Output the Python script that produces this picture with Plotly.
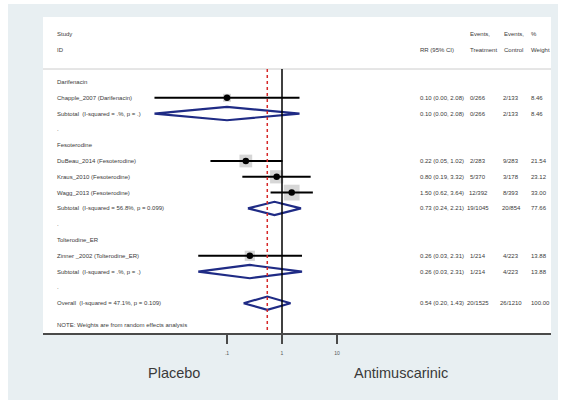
import plotly.graph_objects as go

# ---------------- data ----------------
study_names = ["Chapple_2007 (Darifenacin)", "DuBeau_2014 (Fesoterodine)",
               "Kraus_2010 (Fesoterodine)", "Wagg_2013 (Fesoterodine)",
               "Zinner _2002 (Tolterodine_ER)"]
study_rr = [0.10, 0.22, 0.80, 1.50, 0.26]
study_lo = [0.0048, 0.05, 0.19, 0.62, 0.03]
study_hi = [2.08, 1.02, 3.32, 3.64, 2.31]
study_trt = ["0/266", "2/283", "5/370", "12/392", "1/214"]
study_ctl = ["2/133", "9/283", "3/178", "8/393", "4/223"]
study_wt = [8.46, 21.54, 23.12, 33.00, 13.88]
study_row = [1, 5, 6, 7, 11]

pooled_names = ["Subtotal  (I-squared = .%, p = .)",
                "Subtotal  (I-squared = 56.8%, p = 0.099)",
                "Subtotal  (I-squared = .%, p = .)",
                "Overall  (I-squared = 47.1%, p = 0.109)"]
pooled_rr = [0.10, 0.73, 0.26, 0.54]
pooled_lo = [0.0048, 0.24, 0.03, 0.20]
pooled_hi = [2.08, 2.21, 2.31, 1.43]
pooled_trt = ["0/266", "19/1045", "1/214", "20/1525"]
pooled_ctl = ["2/133", "20/854", "4/223", "26/1210"]
pooled_wt = [8.46, 77.66, 13.88, 100.00]
pooled_row = [2, 8, 12, 14]

group_names = ["Darifenacin", "Fesoterodine", "Tolterodine_ER"]
group_row = [0, 4, 10]
blank_row = [3, 9, 13]

tick_vals = [0.1, 1, 10]
tick_text = [".1", "1", "10"]

# ---------------- layout helpers ----------------
W, H = 565, 403
ML, MR, MT, MB = 43, 14, 17, 70
PW = W - ML - MR
PH = H - MT - MB
ROW0, STEP = 82, 15.8          # pixel y of row 0, pixels per row
X1PX, DEC = 282, 55            # pixel x of RR=1, pixels per decade


def px2paper_x(px):
    return (px - ML) / PW


def px2paper_y(py):
    return (H - MB - py) / PH


def py2row(py):
    return (py - ROW0) / STEP


xr = [(ML - X1PX) / DEC, (W - MR - X1PX) / DEC]
yr = [py2row(H - MB), py2row(MT)]

FONT = "Liberation Sans, Arial, sans-serif"
TXT = "#3a3a3a"
SMALL = 6.0
NAVY = "#1f2b85"

fig = go.Figure()

# weight squares
fig.add_trace(go.Scatter(
    x=study_rr, y=study_row, mode="markers",
    marker=dict(symbol="square", size=[2.75 * w ** 0.5 for w in study_wt],
                color="#c4c4c4", line=dict(width=0)),
    hoverinfo="skip", showlegend=False))

# CI lines
cx, cy = [], []
for lo, hi, r in zip(study_lo, study_hi, study_row):
    cx += [lo, hi, None]
    cy += [r, r, None]
fig.add_trace(go.Scatter(x=cx, y=cy, mode="lines",
                         line=dict(color="black", width=2),
                         hoverinfo="skip", showlegend=False))

# point estimates
fig.add_trace(go.Scatter(x=study_rr, y=study_row, mode="markers",
                         marker=dict(color="black", size=6.5),
                         hoverinfo="skip", showlegend=False))

# diamonds
HH = 0.42
dx, dy = [], []
for rr, lo, hi, r in zip(pooled_rr, pooled_lo, pooled_hi, pooled_row):
    dx += [lo, rr, hi, rr, lo, None]
    dy += [r, r - HH, r, r + HH, r, None]
fig.add_trace(go.Scatter(x=dx, y=dy, mode="lines",
                         line=dict(color=NAVY, width=2.2),
                         hoverinfo="skip", showlegend=False))

shapes = []
# outer light background
shapes.append(dict(type="rect", xref="paper", yref="paper",
                   x0=px2paper_x(8), x1=px2paper_x(558),
                   y0=px2paper_y(400), y1=px2paper_y(4),
                   fillcolor="#e8eff2", line=dict(width=0), layer="below"))
# white panel
shapes.append(dict(type="rect", xref="paper", yref="paper",
                   x0=0, x1=1, y0=0, y1=1,
                   fillcolor="white", line=dict(width=0), layer="below"))
# header separator line
shapes.append(dict(type="line", xref="paper", yref="y",
                   x0=0, x1=1, y0=py2row(69), y1=py2row(69),
                   line=dict(color="#cccccc", width=1)))
# null line
shapes.append(dict(type="line", xref="x", yref="y",
                   x0=1, x1=1, y0=py2row(69), y1=yr[0],
                   line=dict(color="black", width=1.5)))
# overall effect line
shapes.append(dict(type="line", xref="x", yref="y",
                   x0=pooled_rr[-1], x1=pooled_rr[-1], y0=py2row(69), y1=yr[0],
                   line=dict(color="#d62828", width=1.5, dash="dot")))

ann = []


def txt(xpx, row, s, anchor="left", size=SMALL):
    ann.append(dict(x=px2paper_x(xpx), xref="paper", y=row, yref="y",
                    text=s, showarrow=False, xanchor=anchor, yanchor="middle",
                    font=dict(family=FONT, size=size, color=TXT)))


LBLX = 55
RRX, TRTX, CTLX, WTX = 418, 478, 511, 529

# headers
txt(LBLX, py2row(34), "Study")
txt(LBLX, py2row(50), "ID")
txt(RRX, py2row(50), "RR (95% CI)")
txt(468, py2row(34), "Events,")
txt(468, py2row(50), "Treatment")
txt(502, py2row(34), "Events,")
txt(502, py2row(50), "Control")
txt(WTX, py2row(34), "%")
txt(WTX, py2row(50), "Weight")

for g, r in zip(group_names, group_row):
    txt(LBLX, r, g)
for r in blank_row:
    txt(LBLX, r, ".")

for names, rrs, los, his, trts, ctls, wts, rows in [
        (study_names, study_rr, study_lo, study_hi, study_trt, study_ctl, study_wt, study_row),
        (pooled_names, pooled_rr, pooled_lo, pooled_hi, pooled_trt, pooled_ctl, pooled_wt, pooled_row)]:
    for n, rr, lo, hi, t, c, w, r in zip(names, rrs, los, his, trts, ctls, wts, rows):
        txt(LBLX, r, n)
        txt(RRX, r, f"{rr:.2f} ({lo:.2f}, {hi:.2f})")
        txt(TRTX, r, t, anchor="center")
        txt(CTLX, r, c, anchor="center")
        txt(WTX, r, f"{w:.2f}")

txt(LBLX, py2row(325), "NOTE: Weights are from random effects analysis")

# side labels
for s, xpx in [("Placebo", 174), ("Antimuscarinic", 401)]:
    ann.append(dict(x=px2paper_x(xpx), xref="paper", y=px2paper_y(373), yref="paper",
                    text=s, showarrow=False, xanchor="center", yanchor="middle",
                    font=dict(family=FONT, size=14.5, color="#3a3a3a")))

fig.update_layout(
    width=W, height=H,
    margin=dict(l=ML, r=MR, t=MT, b=MB, pad=0),
    paper_bgcolor="white", plot_bgcolor="rgba(0,0,0,0)",
    shapes=shapes, annotations=ann, showlegend=False,
    xaxis=dict(type="log", range=xr, tickvals=tick_vals, ticktext=tick_text,
               showgrid=False, zeroline=False, showline=True,
               linecolor="#4a4a4a", linewidth=2, ticks="outside", ticklen=9,
               tickwidth=2, tickcolor="#4a4a4a", ticklabelstandoff=5,
               tickfont=dict(family=FONT, size=5, color="#555")),
    yaxis=dict(range=yr, visible=False, showgrid=False, zeroline=False),
)

fig.write_html("out.html", config={"displayModeBar": False},
               post_script="document.body.style.margin='0';document.body.style.padding='0';")
